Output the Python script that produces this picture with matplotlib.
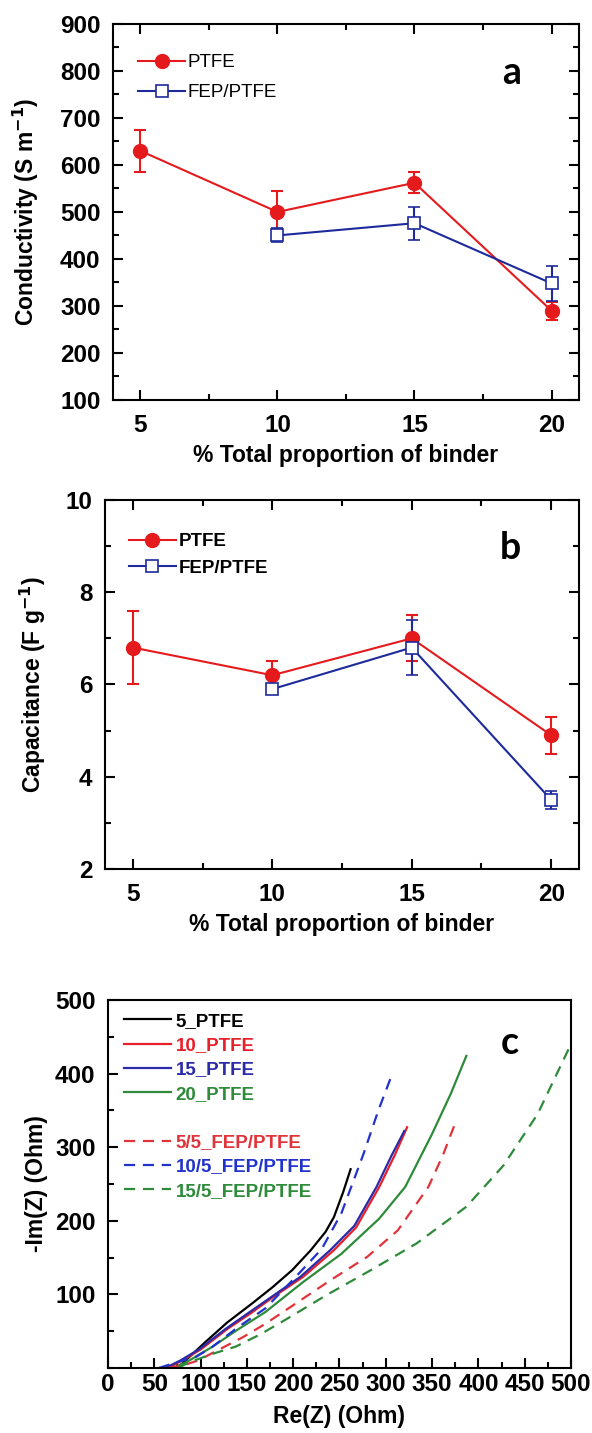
import matplotlib
matplotlib.use('Agg')
import matplotlib.pyplot as plt
from matplotlib.lines import Line2D
from matplotlib.ticker import MultipleLocator

plt.rcParams['font.family'] = ['Liberation Sans', 'DejaVu Sans']
plt.rcParams['axes.linewidth'] = 1.5

# panel a / b data
binder = [5, 10, 15, 20]
binder_fep = [10, 15, 20]
cond_ptfe = [630, 500, 562, 290]
cond_ptfe_err = [45, 45, 22, 19]
cond_fep = [450, 476, 348]
cond_fep_err = [15, 35, 38]
cap_ptfe = [6.8, 6.2, 7.0, 4.9]
cap_ptfe_err = [0.8, 0.3, 0.5, 0.4]
cap_fep = [5.9, 6.8, 3.5]
cap_fep_err = [0.1, 0.6, 0.2]

# panel c: Nyquist curves (Re, -Im)
re_5 = [75, 88, 105, 129, 155, 178, 199, 219, 235, 244, 254, 262]
im_5 = [0, 15, 35, 62, 87, 110, 133, 160, 185, 205, 239, 270]
re_10 = [65, 80, 100, 129, 155, 178, 211, 244, 268, 293, 310, 323]
im_10 = [0, 10, 25, 53, 75, 96, 124, 160, 191, 246, 290, 327]
re_15 = [62, 78, 98, 127, 152, 176, 208, 240, 266, 290, 306, 320]
im_15 = [0, 10, 25, 53, 75, 96, 124, 160, 193, 246, 288, 322]
re_20 = [70, 85, 113, 140, 170, 211, 252, 293, 321, 350, 370, 387]
im_20 = [0, 8, 29, 52, 76, 117, 155, 203, 246, 318, 372, 424]
re_5f = [65, 80, 97, 120, 146, 170, 195, 240, 280, 313, 346, 362, 376]
im_5f = [0, 3, 10, 25, 42, 60, 81, 119, 151, 187, 246, 290, 336]
re_10f = [55, 75, 95, 113, 140, 170, 203, 231, 252, 276, 292, 305]
im_10f = [0, 8, 15, 29, 55, 81, 124, 162, 210, 291, 350, 393]
re_15f = [75, 89, 110, 138, 165, 191, 236, 284, 333, 387, 427, 464, 500]
im_15f = [0, 8, 18, 29, 46, 65, 99, 133, 169, 219, 275, 345, 440]

RED = '#e41a1c'
BLUE = '#1c2a9c'
GREEN = '#2e8b3a'
TICK_SIZE = 17.5

fig = plt.figure(figsize=(5.92, 14.33), dpi=100)
ax_a = fig.add_axes([0.1909, 0.7209, 0.787, 0.2624])
ax_b = fig.add_axes([0.1774, 0.3936, 0.8007, 0.2575])
ax_c = fig.add_axes([0.1824, 0.0454, 0.7821, 0.2568])

label_font = dict(fontsize=16.5, fontweight='bold')


def style_box(ax):
    ax.tick_params(which='both', direction='in', top=True, right=True, width=1.5)
    ax.tick_params(which='major', length=7)
    ax.tick_params(which='minor', length=4)
    ax.tick_params(axis='x', pad=10)
    ax.tick_params(axis='y', pad=9)
    for lab in ax.get_xticklabels() + ax.get_yticklabels():
        lab.set_fontsize(TICK_SIZE)
        lab.set_fontweight('bold')


def binder_panel(ax, y1, e1, y2, e2, ylab, letter, bold_leg, legpos, spacing):
    l1 = ax.errorbar(binder, y1, yerr=e1, color=RED, lw=1.5, marker='o', ms=10,
                     mfc=RED, mec=RED, capsize=4, capthick=1.5, elinewidth=1.5,
                     label='PTFE')
    l2 = ax.errorbar(binder_fep, y2, yerr=e2, color=BLUE, lw=1.5, marker='s', ms=8.5,
                     mfc='white', mec=BLUE, mew=1.2, capsize=4, capthick=1.5,
                     elinewidth=1.5, label='FEP/PTFE')
    ax.set_xlim(4, 21)
    ax.set_xticks(binder)
    ax.xaxis.set_minor_locator(MultipleLocator(2.5))
    ax.set_xlabel('% Total proportion of binder', **label_font)
    ax.set_ylabel(ylab, **label_font)
    ax.legend([l1.lines[0], l2.lines[0]], ['PTFE', 'FEP/PTFE'],
              loc='upper left', bbox_to_anchor=legpos, frameon=False,
              borderpad=0, borderaxespad=0, handlelength=2.5,
              handletextpad=0.15, labelspacing=spacing,
              prop={'size': 13.5, 'weight': 'bold' if bold_leg else 'normal'})
    ax.text(0.855, 0.87, letter, transform=ax.transAxes, ha='center', va='center',
            fontsize=27, fontweight='bold', family=['Lato', 'DejaVu Sans'])


binder_panel(ax_a, cond_ptfe, cond_ptfe_err, cond_fep, cond_fep_err,
             'Conductivity (S m$^{\\mathbf{-1}}$)', 'a', False, (0.054, 0.92), 0.7)
ax_a.set_ylim(100, 900)
ax_a.yaxis.set_major_locator(MultipleLocator(100))
ax_a.yaxis.set_minor_locator(MultipleLocator(50))
ax_a.xaxis.set_label_coords(0.5, -0.118)
ax_a.yaxis.set_label_coords(-0.155, 0.5)

binder_panel(ax_b, cap_ptfe, cap_ptfe_err, cap_fep, cap_fep_err,
             'Capacitance (F g$^{\\mathbf{-1}}$)', 'b', True, (0.05, 0.91), 0.5)
ax_b.set_ylim(2, 10)
ax_b.yaxis.set_major_locator(MultipleLocator(2))
ax_b.yaxis.set_minor_locator(MultipleLocator(1))
ax_b.xaxis.set_label_coords(0.5, -0.12)
ax_b.yaxis.set_label_coords(-0.12, 0.5)
style_box(ax_a)
style_box(ax_b)

# panel c
curves = [
    (re_5, im_5, 'black', '-', '5_PTFE'),
    (re_10, im_10, '#e8202a', '-', '10_PTFE'),
    (re_15, im_15, '#2b2aa8', '-', '15_PTFE'),
    (re_20, im_20, GREEN, '-', '20_PTFE'),
    (re_5f, im_5f, '#e0343a', '--', '5/5_FEP/PTFE'),
    (re_10f, im_10f, '#2233cc', '--', '10/5_FEP/PTFE'),
    (re_15f, im_15f, GREEN, '--', '15/5_FEP/PTFE'),
]
handles = []
for xs, ys, col, ls, lab in curves:
    ln, = ax_c.plot(xs, ys, color=col, lw=1.6, ls=ls, label=lab)
    if ls == '--':
        ln.set_dashes((5, 3.5))
    handles.append(ln)
spacer = Line2D([], [], color='none')
leg_h = handles[:4] + [spacer] + handles[4:]
leg_l = [h.get_label() for h in handles[:4]] + [' '] + [h.get_label() for h in handles[4:]]
leg = ax_c.legend(leg_h, leg_l, loc='upper left', bbox_to_anchor=(0.035, 0.965),
                  frameon=False, borderpad=0, borderaxespad=0, handlelength=2.5,
                  handletextpad=0.25, labelspacing=0.38,
                  prop={'size': 13.5, 'weight': 'bold'})
for txt, h in zip(leg.get_texts(), leg_h):
    if h is not spacer:
        txt.set_color(h.get_color())

ax_c.set_xlim(0, 500)
ax_c.set_ylim(0, 500)
ax_c.xaxis.set_major_locator(MultipleLocator(50))
ax_c.xaxis.set_minor_locator(MultipleLocator(25))
ax_c.set_yticks([100, 200, 300, 400, 500])
ax_c.yaxis.set_minor_locator(MultipleLocator(50))
ax_c.set_xlabel('Re(Z) (Ohm)', **label_font)
ax_c.set_ylabel('-Im(Z) (Ohm)', **label_font)
ax_c.xaxis.set_label_coords(0.5, -0.1)
ax_c.yaxis.set_label_coords(-0.13, 0.5)
ax_c.text(0.868, 0.883, 'c', transform=ax_c.transAxes, ha='center', va='center',
          fontsize=27, fontweight='bold', family=['Lato', 'DejaVu Sans'])
ax_c.tick_params(which='both', direction='in', width=1.5)
ax_c.tick_params(which='major', length=7)
ax_c.tick_params(which='minor', length=4)
ax_c.tick_params(axis='x', pad=4)
ax_c.tick_params(axis='y', pad=9)
for lab in ax_c.get_xticklabels() + ax_c.get_yticklabels():
    lab.set_fontsize(TICK_SIZE)
    lab.set_fontweight('bold')

fig.savefig('out.png', dpi=100)
